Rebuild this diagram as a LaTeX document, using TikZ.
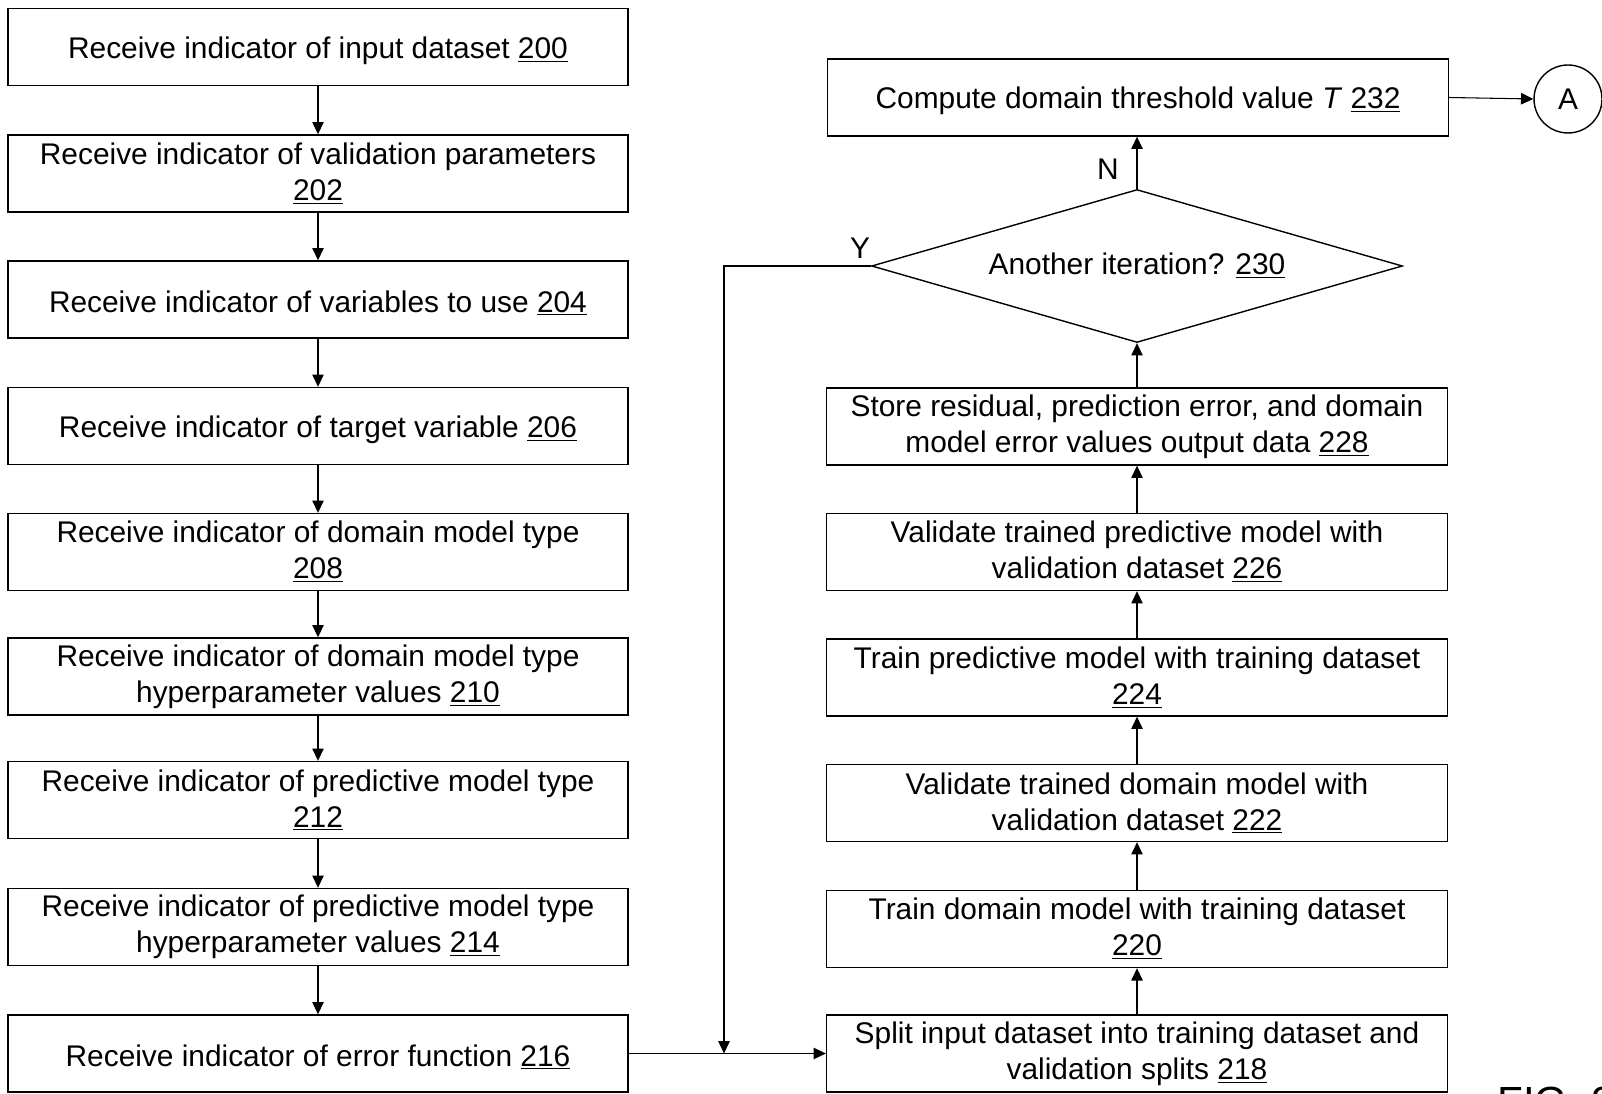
\documentclass[tikz,border=0pt]{standalone}
\usepackage{fontspec}
\setmainfont{Liberation Sans}
\usetikzlibrary{arrows.meta,shapes.geometric}
\begin{document}
\begin{tikzpicture}[x=0.02cm,y=-0.02cm,
  box/.style={draw,line width=0.8pt,minimum height=1.54cm,align=center,inner sep=2pt,
    font=\fontsize{17}{20.5}\selectfont,execute at begin node={\rule{0pt}{16.5pt}}},
  lbox/.style={box,minimum width=12.4cm},
  rbox/.style={box,minimum width=12.42cm},
  flow/.style={-{Triangle[length=7pt,width=6.5pt]},line width=0.6pt}]
 \useasboundingbox (0,0) rectangle (1602,1094);
 \clip (0,0) rectangle (1602,1094);
 % left column
 \node[lbox,name=n200] at (318,47) {Receive indicator of input dataset \underline{200}};
 \node[lbox,name=n202] at (318,173.5) {Receive indicator of validation parameters\\\underline{202}};
 \node[lbox,name=n204] at (318,299.5) {Receive indicator of variables to use \underline{204}};
 \node[lbox,name=n206] at (318,426) {Receive indicator of target variable \underline{206}};
 \node[lbox,name=n208] at (318,552) {Receive indicator of domain model type\\\underline{208}};
 \node[lbox,name=n210] at (318,676.5) {Receive indicator of domain model type\\hyperparameter values \underline{210}};
 \node[lbox,name=n212] at (318,800) {Receive indicator of predictive model type\\\underline{212}};
 \node[lbox,name=n214] at (318,927) {Receive indicator of predictive model type\\hyperparameter values \underline{214}};
 \node[lbox,name=n216] at (318,1053.5) {Receive indicator of error function \underline{216}};
 % right column
 \node[rbox,name=n218] at (1137,1053.5) {Split input dataset into training dataset and\\validation splits \underline{218}};
 \node[rbox,name=n220] at (1137,929) {Train domain model with training dataset\\\underline{220}};
 \node[rbox,name=n222] at (1137,803) {Validate trained domain model with\\validation dataset \underline{222}};
 \node[rbox,name=n224] at (1137,677.5) {Train predictive model with training dataset\\\underline{224}};
 \node[rbox,name=n226] at (1137,552) {Validate trained predictive model with\\validation dataset \underline{226}};
 \node[rbox,name=n228] at (1137,426.5) {Store residual, prediction error, and domain\\model error values output data \underline{228}};
 \node[diamond,draw,line width=0.8pt,aspect=3.47,minimum width=10.62cm,minimum height=3.06cm,inner sep=0pt,
   font=\fontsize{17}{20.5}\selectfont,name=dia] at (1137,266) {Another iteration? \underline{230}};
 \node[rbox,name=n232] at (1138,97.5) {Compute domain threshold value \textit{T} \underline{232}};
 \node[circle,draw,line width=0.8pt,minimum size=1.36cm,inner sep=0pt,
   font=\fontsize{17}{20.5}\selectfont,name=conn] at (1568,99) {A};
 \node[font=\fontsize{17}{20.5}\selectfont,name=ylab] at (860,248) {Y};
 \node[font=\fontsize{17}{20.5}\selectfont,name=nlab] at (1108,169) {N};
 \node[anchor=north west,inner sep=0pt,font=\fontsize{24}{28}\selectfont,name=fig] at (1497,1087) {FIG. 2};
 \coordinate (merge) at (724,1053.5);
 \foreach \a/\b in {n200/n202,n202/n204,n204/n206,n206/n208,n208/n210,n210/n212,n212/n214,n214/n216} {
    \draw[flow] (\a.south) -- (\b.north);
 }
 \foreach \a/\b in {n218/n220,n220/n222,n222/n224,n224/n226,n226/n228,n228/dia} {
    \draw[flow] (\a.north) -- (\b.south);
 }
 \draw[flow] (dia.north) -- (dia.north |- n232.south); % no
 \draw[flow] (n216.east) -- (n218.west);
 \draw[flow] (dia.west) -| (merge);  % yes
 \draw[flow] (n232.east) -- (conn.west);
\end{tikzpicture}
\end{document}
